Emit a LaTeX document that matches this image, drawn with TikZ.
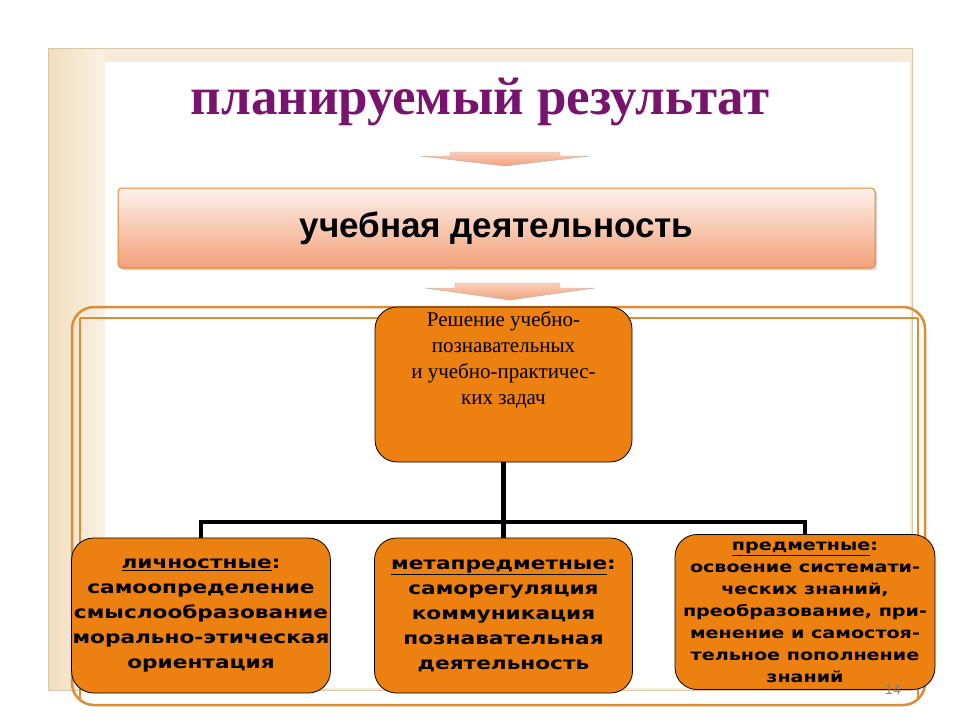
\documentclass[tikz,border=0pt]{standalone}
\usepackage{fontspec}
\setmainfont{Liberation Serif}
\newfontfamily\argl{Liberation Sans}
\newfontfamily\dvs[FakeStretch=1.25]{DejaVu Sans}
\usetikzlibrary{shadows}
\definecolor{beige}{RGB}{240,222,190}
\definecolor{frameor}{RGB}{220,140,50}
\definecolor{boxor}{RGB}{236,128,16}
\definecolor{purp}{RGB}{120,20,110}
\definecolor{salm}{RGB}{242,160,120}
\tikzset{
 obox/.style={draw=black,line width=0.8pt,fill=boxor,rounded corners=22pt,align=center},
 tree/.style={line width=4.5pt,black},
 darrow/.style={draw=gray!60,top color=salm!50,bottom color=salm,line width=0.4pt}
}
\begin{document}
\begin{tikzpicture}[x=1pt,y=-1pt]
\useasboundingbox (0,0) rectangle (960,720);
\fill[white] (0,0) rectangle (960,720);
% outer frame
\fill[beige!60] (48,48) rectangle (912,690);
\draw[beige!90!black,line width=1pt] (48,48) rectangle (912,690);
\fill[white] (105,62) rectangle (910,688);
\shade[left color=beige,right color=beige!40] (49,49) rectangle (105,689);
\node[font=\bfseries\fontsize{53}{56}\selectfont,text=purp] (title) at (480,102) {планируемый результат};
% arrow 1
\draw[darrow] (450,152) -- (560,152) -- (560,156) -- (590,156) -- (505,166) -- (420,156) -- (450,156) -- cycle;
% study box
\node[draw=frameor,line width=1pt,rounded corners=4pt,top color=salm!15,bottom color=salm,
  minimum width=757,minimum height=80,drop shadow={opacity=0.3},
  font=\argl\bfseries\fontsize{35}{38}\selectfont] (study) at (496.5,228) {учебная деятельность};
% arrow 2
\draw[darrow] (455,283) -- (560,283) -- (560,288) -- (595,288) -- (510,300) -- (425,288) -- (455,288) -- cycle;
% bottom frame
\draw[frameor,line width=2.5pt,rounded corners=22pt] (72,307) -- (925,307) -- (925,705) -- (72,705) -- cycle;
\draw[frameor,line width=1.2pt] (80,318) -- (918,318);
\draw[frameor,line width=1.2pt] (80,318) -- (80,700);
\draw[frameor,line width=1.2pt] (918,318) -- (918,700);
% top node
\node[obox,minimum width=257,minimum height=155,font=\fontsize{21}{26}\selectfont] (top) at (503.5,384.5)
 {\\[-14pt]Решение учебно-\\познавательных\\ и учебно-практичес-\\ких задач\\[24pt]};
% bottom nodes
\tikzset{bb/.style={obox,minimum width=258,minimum height=155,font=\dvs\bfseries\fontsize{17.3}{25}\selectfont,inner sep=1pt}}
\node[bb] (l) at (201,615.5) {\underline{личностные}:\\самоопределение\\смыслообразование\\морально-этическая\\ориентация};
\node[bb] (m) at (503.5,615.5) {\underline{метапредметные}:\\саморегуляция\\коммуникация\\познавательная\\деятельность};
\node[bb,minimum width=260,font=\dvs\bfseries\fontsize{15.3}{22}\selectfont] (r) at (805,612) {\underline{предметные}:\\освоение системати-\\ческих знаний,\\преобразование, при-\\менение и самостоя-\\тельное пополнение\\знаний};
% tree
\coordinate (j) at (503.5,522);
\draw[tree] (top.south) -- (j);
\draw[tree] (201,522) -- (805,522);
\draw[tree] (j) -- (m.north);
\draw[tree] (201,520) -- (l.north);
\draw[tree] (805,520) -- (r.north);
\node[text=gray,font=\argl\fontsize{14}{16}\selectfont] (pg) at (893,690) {14};
\end{tikzpicture}
\end{document}
